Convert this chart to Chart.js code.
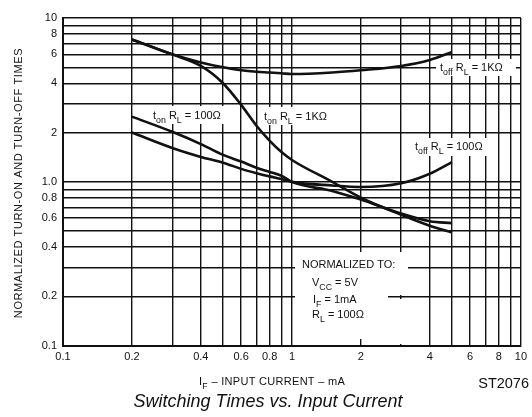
<!DOCTYPE html>
<html>
<head>
<meta charset="utf-8">
<script src="https://cdn.jsdelivr.net/npm/chart.js@4/dist/chart.umd.min.js"></script>
<style>
  html, body { margin: 0; padding: 0; background: #fff; }
</style>
</head>
<body>
<canvas id="graficoTempos" width="532" height="417"></canvas>
<script>
// input current IF (mA)
const inputCurrent = [0.2, 0.3, 0.4, 0.5, 0.6, 0.7, 0.8, 0.9, 1, 1.5, 2, 3, 4, 5];

// normalized switching times
const tOff1k  = [7.4, 6.0, 5.35, 5.0, 4.8, 4.7, 4.65, 4.6, 4.55, 4.65, 4.8, 5.1, 5.55, 6.2];
const tOn1k   = [7.4, 6.0, 5.1, 4.0, 2.95, 2.2, 1.78, 1.52, 1.36, 1.0, 0.8, 0.63, 0.54, 0.49];
const tOn100  = [2.5, 2.02, 1.7, 1.46, 1.33, 1.22, 1.15, 1.09, 1.0, 0.88, 0.78, 0.64, 0.575, 0.56];
const tOff100 = [2.0, 1.61, 1.42, 1.31, 1.2, 1.13, 1.08, 1.04, 1.0, 0.95, 0.93, 0.98, 1.12, 1.32];

// grid lines and labelled ticks (same log decades on both axes)
const gridValues = [0.1, 0.2, 0.3, 0.4, 0.5, 0.6, 0.7, 0.8, 0.9, 1, 2, 3, 4, 5, 6, 7, 8, 9, 10];
const xTickValues = [0.1, 0.2, 0.4, 0.6, 0.8, 1, 2, 4, 6, 8, 10];
const xTickLabels = ['0.1', '0.2', '0.4', '0.6', '0.8', '1', '2', '4', '6', '8', '10'];
const yTickValues = [0.1, 0.2, 0.4, 0.6, 0.8, 1, 2, 4, 6, 8, 10];
const yTickLabels = ['0.1', '0.2', '0.4', '0.6', '0.8', '1.0', '2', '4', '6', '8', '10'];

const FONT = '"Liberation Sans", Arial, Helvetica, sans-serif';

function points(ys) {
    return inputCurrent.map((x, i) => ({ x: x, y: ys[i] }));
}

function tickText(values, labels, v) {
    const i = values.findIndex(t => Math.abs(t - v) < v * 1e-6);
    return i >= 0 ? labels[i] : '';
}

// text with subscripts: parts = [[text, isSub], ...]
function richText(ctx, parts, x, y, size) {
    parts.forEach(p => {
        const sub = p[1];
        ctx.font = (sub ? size * 0.8 : size) + 'px ' + FONT;
        ctx.fillText(p[0], x, sub ? y + size * 0.32 : y);
        x += ctx.measureText(p[0]).width;
    });
}

const curveLabels = [
    { x: 440, y: 71,  box: [436, 59, 80, 17],  parts: [['t'], ['off', 1], [' R'], ['L', 1], [' = 1K\u03A9']] },
    { x: 153, y: 119, box: [150, 106, 82, 18], parts: [['t'], ['on', 1], [' R'], ['L', 1], [' = 100\u03A9']] },
    { x: 264, y: 120, box: [261, 107, 76, 18], parts: [['t'], ['on', 1], [' R'], ['L', 1], [' = 1K\u03A9']] },
    { x: 415, y: 150, box: [412, 138, 82, 18], parts: [['t'], ['off', 1], [' R'], ['L', 1], [' = 100\u03A9']] }
];

const notes = {
    id: 'notes',
    beforeDatasetsDraw(chart) {
        const ctx = chart.ctx;
        ctx.save();
        ctx.fillStyle = '#fff';
        curveLabels.forEach(l => ctx.fillRect(...l.box));
        // "normalized to" box
        ctx.fillRect(295, 252, 113, 26);
        ctx.fillRect(295, 278, 93, 61);
        ctx.fillRect(398, 278, 10, 17);
        ctx.fillRect(398, 299, 10, 45);

        ctx.fillStyle = '#111';
        ctx.textBaseline = 'alphabetic';
        ctx.textAlign = 'left';
        curveLabels.forEach(l => richText(ctx, l.parts, l.x, l.y, 11));
        richText(ctx, [['NORMALIZED TO:']], 302, 268, 11);
        richText(ctx, [['V'], ['CC', 1], [' = 5V']], 312, 286, 11);
        richText(ctx, [['I'], ['F', 1], [' = 1mA']], 313, 303, 11);
        richText(ctx, [['R'], ['L', 1], [' = 100\u03A9']], 312, 318, 11);
        ctx.restore();
    },
    afterDraw(chart) {
        const ctx = chart.ctx;
        ctx.save();
        ctx.fillStyle = '#111';
        ctx.textBaseline = 'middle';
        ctx.textAlign = 'center';

        // y axis title
        ctx.save();
        ctx.translate(19, 183);
        ctx.rotate(-Math.PI / 2);
        ctx.letterSpacing = '0.6px';
        ctx.font = '11px ' + FONT;
        ctx.fillText('NORMALIZED TURN-ON AND TURN-OFF TIMES', 0, 0);
        ctx.restore();

        // x axis title
        ctx.textBaseline = 'alphabetic';
        ctx.textAlign = 'left';
        ctx.letterSpacing = '0.3px';
        richText(ctx, [['I'], ['F', 1], [' \u2013 INPUT CURRENT \u2013 mA']], 199, 385, 11);

        ctx.letterSpacing = '0px';
        ctx.font = '14.5px ' + FONT;
        ctx.textAlign = 'right';
        ctx.fillText('ST2076', 529, 388);

        ctx.font = 'italic 18px ' + FONT;
        ctx.textAlign = 'center';
        ctx.fillText('Switching Times vs. Input Current', 268, 407);
        ctx.restore();
    }
};

const lineStyle = {
    borderColor: '#111',
    borderWidth: 2.6,
    pointRadius: 0,
    showLine: true,
    fill: false,
    cubicInterpolationMode: 'monotone',
    borderCapStyle: 'butt'
};

new Chart(document.getElementById('graficoTempos'), {
    type: 'scatter',
    data: {
        datasets: [
            { label: 't_off RL=1K', data: points(tOff1k), ...lineStyle },
            { label: 't_on RL=1K', data: points(tOn1k), ...lineStyle },
            { label: 't_on RL=100', data: points(tOn100), ...lineStyle },
            { label: 't_off RL=100', data: points(tOff100), ...lineStyle }
        ]
    },
    options: {
        responsive: false,
        animation: false,
        layout: { padding: { top: 18, right: 9, left: 0, bottom: 0 } },
        plugins: {
            legend: { display: false },
            tooltip: { enabled: false }
        },
        scales: {
            x: {
                type: 'logarithmic',
                min: 0.1,
                max: 10,
                afterBuildTicks: axis => { axis.ticks = gridValues.map(v => ({ value: v })); },
                afterFit: axis => { axis.height = 71.3; },
                grid: { color: '#111', lineWidth: 1.4, drawTicks: false },
                border: { color: '#111', width: 2 },
                ticks: {
                    autoSkip: false,
                    maxRotation: 0,
                    padding: 5,
                    color: '#111',
                    font: { family: FONT, size: 11 },
                    callback: v => tickText(xTickValues, xTickLabels, v)
                }
            },
            y: {
                type: 'logarithmic',
                min: 0.1,
                max: 10,
                afterBuildTicks: axis => { axis.ticks = gridValues.map(v => ({ value: v })); },
                afterFit: axis => { axis.width = 63; },
                grid: { color: '#111', lineWidth: 1.4, drawTicks: false },
                border: { color: '#111', width: 2 },
                ticks: {
                    autoSkip: false,
                    padding: 6,
                    color: '#111',
                    font: { family: FONT, size: 11 },
                    callback: v => tickText(yTickValues, yTickLabels, v)
                }
            }
        }
    },
    plugins: [notes]
});
</script>
</body>
</html>
